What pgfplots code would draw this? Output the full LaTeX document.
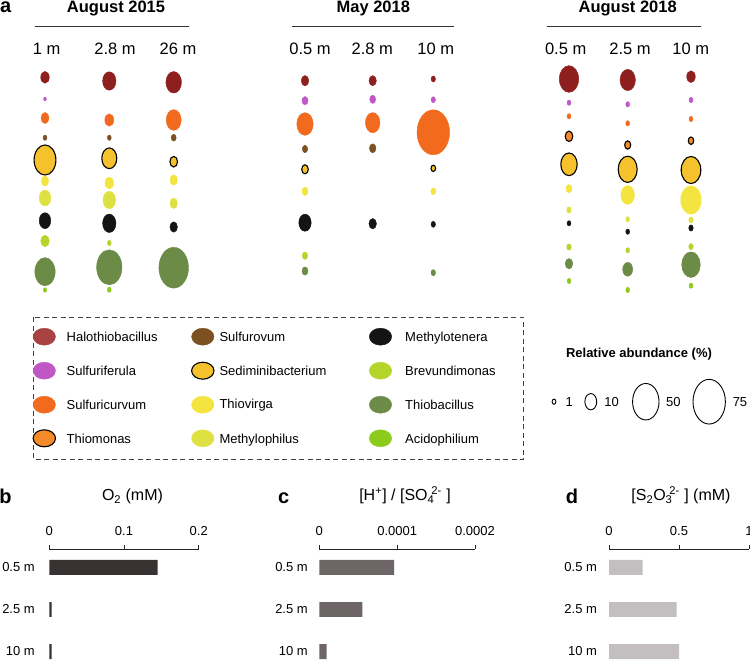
\documentclass[border=0pt]{standalone}
\usepackage{pgfplots}
\pgfplotsset{compat=1.18}
\usepackage{pgfplotstable}
\usepackage{fontspec}
\setmainfont{Liberation Sans}
\newcommand\fs[1]{\fontsize{#1bp}{#1bp}\selectfont}

\definecolor{cHal}{HTML}{8E1F1F}
\definecolor{cHalL}{HTML}{A94242}
\definecolor{cSfe}{HTML}{C057C6}
\definecolor{cScu}{HTML}{F26A1E}
\definecolor{cTmo}{HTML}{F58A2A}
\definecolor{cSov}{HTML}{7B5122}
\definecolor{cSed}{HTML}{F5C22E}
\definecolor{cTvi}{HTML}{F4E43F}
\definecolor{cMph}{HTML}{DFE143}
\definecolor{cMte}{HTML}{141414}
\definecolor{cBre}{HTML}{B5D52B}
\definecolor{cTba}{HTML}{6B8B46}
\definecolor{cAci}{HTML}{8DCB1B}
\definecolor{cBarB}{HTML}{383233}
\definecolor{cBarC}{HTML}{6E6567}
\definecolor{cBarD}{HTML}{C3BFC0}

% bubble mark: half-axes \rx, \ry (in bp)
\pgfdeclareplotmark{ellip}{%
  \pgfpathellipse{\pgfpointorigin}{\pgfpoint{\rx bp}{0pt}}{\pgfpoint{0pt}{\ry bp}}%
  \pgfusepathqfillstroke}
\pgfdeclareplotmark{legell}{%
  \pgfpathellipse{\pgfpointorigin}{\pgfpoint{11.2bp}{0pt}}{\pgfpoint{0pt}{8.5bp}}%
  \pgfusepathqfillstroke}

% relative abundance (%) of each genus; x,y = position in the figure
\pgfplotstableread{
x y a g
45 77.3 5.3 Hal
45 99 0.6 Sfe
45 118 4.6 Scu
45 137.7 1.1 Sov
45 160 34 Sed
45 181 3.9 Tvi
45 198 9.6 Mph
45 220.7 9.6 Mte
45 241 5.0 Bre
45 271.7 29.8 Tba
45 290 0.8 Aci
109.3 81 12.8 Hal
109.3 120 5.8 Scu
109.3 137.7 1.1 Sov
109.3 158.3 16 Sed
109.3 183 5.3 Tvi
109.3 200 11.4 Mph
109.3 223.3 12.8 Mte
109.3 243 1.1 Bre
109.3 267.3 46.1 Tba
109.3 289.7 1.1 Aci
173.7 82.3 17.4 Hal
173.7 120 16.1 Scu
173.7 137.7 1.8 Sov
173.7 161.7 4.2 Sed
173.7 180 4.1 Tvi
173.7 203.3 4.1 Mph
173.7 227 4.1 Mte
173.7 267.7 62.6 Tba
305 80.7 4.1 Hal
305 100.7 2.6 Sfe
305 124 19.2 Scu
305 149 2.1 Sov
305 169.3 3.1 Sed
305 191.3 2.6 Tvi
305 222.7 11 Mte
305 255.7 2.1 Bre
305 271 2.6 Tba
372.7 80.7 3.9 Hal
372.7 99.3 2.6 Sfe
372.7 122.7 15.2 Scu
372.7 148.3 3.1 Sov
372.7 223.7 4.1 Mte
433.3 79 1.4 Hal
433.3 99.7 1.4 Sfe
433.3 132.3 76 Scu
433.3 168.3 1.5 Sed
433.3 191.3 1.8 Tvi
433.3 224.3 1.4 Mte
433.3 272.7 1.5 Tba
569 79 26.9 Hal
569 102.7 1.1 Sfe
569 116.3 1.1 Scu
569 136.3 4.1 Tmo
569 164.3 19.2 Sed
569 188.7 2.6 Tvi
569 210 1.5 Mph
569 223.3 1.1 Mte
569 247 1.5 Bre
569 263.7 4.1 Tba
569 281 1.1 Aci
627.7 80 17 Hal
627.7 104.3 1.1 Sfe
627.7 123.3 1.1 Scu
627.7 145 2.6 Tmo
627.7 169.3 25.8 Sed
627.7 195 13.2 Tvi
627.7 219.3 1.1 Mph
627.7 231.7 1.1 Mte
627.7 250.3 1.1 Bre
627.7 269.3 7.2 Tba
627.7 290 1.1 Aci
691 76.7 5.3 Hal
691 100 1.1 Sfe
691 119 1.1 Scu
691 140.7 2.1 Tmo
691 170 27.5 Sed
691 200 30.3 Tvi
691 220 1.5 Mph
691 228 1.5 Mte
691 246.7 1.5 Bre
691 264.7 24.7 Tba
691 285.7 1.1 Aci
}\bubbles

\pgfplotstableread{
x y g
44.3 336.7 Hal
44.3 370.7 Sfe
44.3 404.7 Scu
44.3 438.3 Tmo
202.8 336.7 Sov
202.8 370.7 Sed
202.8 404.7 Tvi
202.8 438.3 Mph
380.5 336.7 Mte
380.5 370.7 Bre
380.5 404.7 Tba
380.5 438.3 Aci
}\legtab

\pgfplotstableread{
x y a
554 401.7 1
590.8 401.7 10
645.8 401.7 50
709.2 401.7 75
}\sizetab

% y: 2 = 0.5 m, 1 = 2.5 m, 0 = 10 m
\pgfplotstableread{
y o2 hso s2o3
2 0.145 0.0000960 0.24
1 0.003 0.0000552 0.483
0 0.003 0.0000094 0.50
}\bars

\pgfplotsset{
  genusclasses/.style={scatter/classes={
    Hal={draw=#1,fill=#1},
    Sfe={draw=cSfe,fill=cSfe},
    Scu={draw=cScu,fill=cScu},
    Tmo={draw=black,fill=cTmo,line width=1.1bp},
    Sov={draw=cSov,fill=cSov},
    Sed={draw=black,fill=cSed,line width=1.1bp},
    Tvi={draw=cTvi,fill=cTvi},
    Mph={draw=cMph,fill=cMph},
    Mte={draw=cMte,fill=cMte},
    Bre={draw=cBre,fill=cBre},
    Tba={draw=cTba,fill=cTba},
    Aci={draw=cAci,fill=cAci}}},
  barax/.style={scale only axis, height=111bp, ymin=-0.202, ymax=2.44,
    axis x line=top, axis y line=left,
    x axis line style={-, line width=0.9bp, draw=black!85},
    y axis line style={draw=none},
    xtick align=outside, major tick length=4bp,
    xtick style={line width=0.8bp, draw=black!85},
    ytick={0,1,2}, yticklabels={10 m,2.5 m,0.5 m}, ytick style={draw=none},
    tick label style={font=\fs{13}},
    xticklabel style={yshift=6bp},
    scaled x ticks=false, clip=false},
}
\tikzset{
  lab/.style={anchor=base, inner sep=0, font=\fs{#1}},
  blab/.style={anchor=base, inner sep=0, font=\fs{#1}\bfseries},
  leg/.style={anchor=base west, inner sep=0, font=\fs{13}},
}

\begin{document}
\begin{tikzpicture}
\begin{axis}[at={(0,0)}, anchor=south west, scale only axis,
  width=750bp, height=660bp, xmin=0, xmax=750, ymin=0, ymax=660,
  y dir=reverse, hide axis, clip=false]

% bubbles
\addplot[scatter, only marks, mark=ellip, scatter src=explicit symbolic,
  genusclasses=cHal,
  visualization depends on={1.87*sqrt(\thisrow{a}) \as \rx},
  visualization depends on={1.38*1.87*sqrt(\thisrow{a}) \as \ry}]
  table[x=x, y=y, meta=g] \bubbles;

% genus legend
\addplot[scatter, only marks, mark=legell, scatter src=explicit symbolic,
  genusclasses=cHalL]
  table[x=x, y=y, meta=g] \legtab;

% size legend
\addplot[only marks, mark=ellip, mark options={draw=black, fill=white, line width=0.9bp},
  visualization depends on={1.87*sqrt(\thisrow{a}) \as \rx},
  visualization depends on={1.38*1.87*sqrt(\thisrow{a}) \as \ry}]
  table[x=x, y=y] \sizetab;

% panel a texts
\node[blab=20] at (axis cs:5.8,12.7) {a};
\node[blab=16.5] at (axis cs:116,12.8) {August 2015};
\node[blab=16.5] at (axis cs:373.3,12.8) {May 2018};
\node[blab=16.5] at (axis cs:627.7,12.8) {August 2018};
\draw[line width=1bp, black!80] (axis cs:35,26) -- (axis cs:189,26);
\draw[line width=1bp, black!80] (axis cs:292,26) -- (axis cs:454,26);
\draw[line width=1bp, black!80] (axis cs:547,26) -- (axis cs:701,26);
\node[lab=16.5] at (axis cs:46.7,54.3) {1 m};
\node[lab=16.5] at (axis cs:115,54.3) {2.8 m};
\node[lab=16.5] at (axis cs:178,54.3) {26 m};
\node[lab=16.5] at (axis cs:310,54.3) {0.5 m};
\node[lab=16.5] at (axis cs:372.3,54.3) {2.8 m};
\node[lab=16.5] at (axis cs:435.7,54.3) {10 m};
\node[lab=16.5] at (axis cs:565.7,54.3) {0.5 m};
\node[lab=16.5] at (axis cs:630,54.3) {2.5 m};
\node[lab=16.5] at (axis cs:690.7,54.3) {10 m};

% legend box and names
\draw[line width=1bp, black!75, dash pattern=on 5bp off 3.5bp] (axis cs:33,317.3) rectangle (axis cs:523.7,459.3);
\node[leg] at (axis cs:66.5,341.4) {Halothiobacillus};
\node[leg] at (axis cs:66.5,375.4) {Sulfuriferula};
\node[leg] at (axis cs:66.5,409.4) {Sulfuricurvum};
\node[leg] at (axis cs:66.5,443) {Thiomonas};
\node[leg] at (axis cs:219.3,341.4) {Sulfurovum};
\node[leg] at (axis cs:219.3,375.4) {Sediminibacterium};
\node[leg] at (axis cs:219.3,408) {Thiovirga};
\node[leg] at (axis cs:219.3,443) {Methylophilus};
\node[leg] at (axis cs:405,341.4) {Methylotenera};
\node[leg] at (axis cs:405,375.4) {Brevundimonas};
\node[leg] at (axis cs:405,409.4) {Thiobacillus};
\node[leg] at (axis cs:405,443) {Acidophilium};
\node[blab=13] at (axis cs:639,357.3) {Relative abundance (\%)};
\node[lab=13] at (axis cs:569.3,406.4) {1};
\node[lab=13] at (axis cs:611.7,406.4) {10};
\node[lab=13] at (axis cs:673.3,406.4) {50};
\node[lab=13] at (axis cs:740,406.4) {75};

% panels b, c, d headers
\node[blab=20] at (axis cs:5.5,503.5) {b};
\node[blab=20] at (axis cs:283.8,503.5) {c};
\node[blab=20] at (axis cs:572,503.5) {d};
\node[lab=16] at (axis cs:132.5,500.7) {O\textsubscript{2} (mM)};
\node[lab=16] at (axis cs:405,500.7) {[H\textsuperscript{+}] / [SO\textsubscript{4}\hspace{-3bp}\textsuperscript{2-} ]};
\node[lab=16] at (axis cs:681,500.7) {[S\textsubscript{2}O\textsubscript{3}\hspace{-3bp}\textsuperscript{2-} ] (mM)};
\end{axis}

% b: O2
\begin{axis}[barax, at={(49.3bp,0bp)}, anchor=south west, width=149.4bp,
  xmin=0, xmax=0.2, xtick={0,0.1,0.2}, xticklabels={0,0.1,0.2},
  yticklabel style={xshift=-9bp}]
\addplot[xbar, bar width=0.357, fill=cBarB, draw=none] table[x=o2, y=y] \bars;
\end{axis}

% c: H+/SO4
\begin{axis}[barax, at={(319.3bp,0bp)}, anchor=south west, width=155.7bp,
  xmin=0, xmax=0.0002, xtick={0,0.0001,0.0002}, xticklabels={0,0.0001,0.0002},
  yticklabel style={xshift=-6bp}]
\addplot[xbar, bar width=0.357, fill=cBarC, draw=none] table[x=hso, y=y] \bars;
\end{axis}

% d: S2O3
\begin{axis}[barax, at={(609bp,0bp)}, anchor=south west, width=140bp,
  xmin=0, xmax=1, xtick={0,0.5,1}, xticklabels={0,0.5,1},
  yticklabel style={xshift=-6.5bp}]
\addplot[xbar, bar width=0.357, fill=cBarD, draw=none] table[x=s2o3, y=y] \bars;
\end{axis}

\pgfresetboundingbox
\path[use as bounding box] (0,0) rectangle (750bp,660bp);
\end{tikzpicture}
\end{document}
